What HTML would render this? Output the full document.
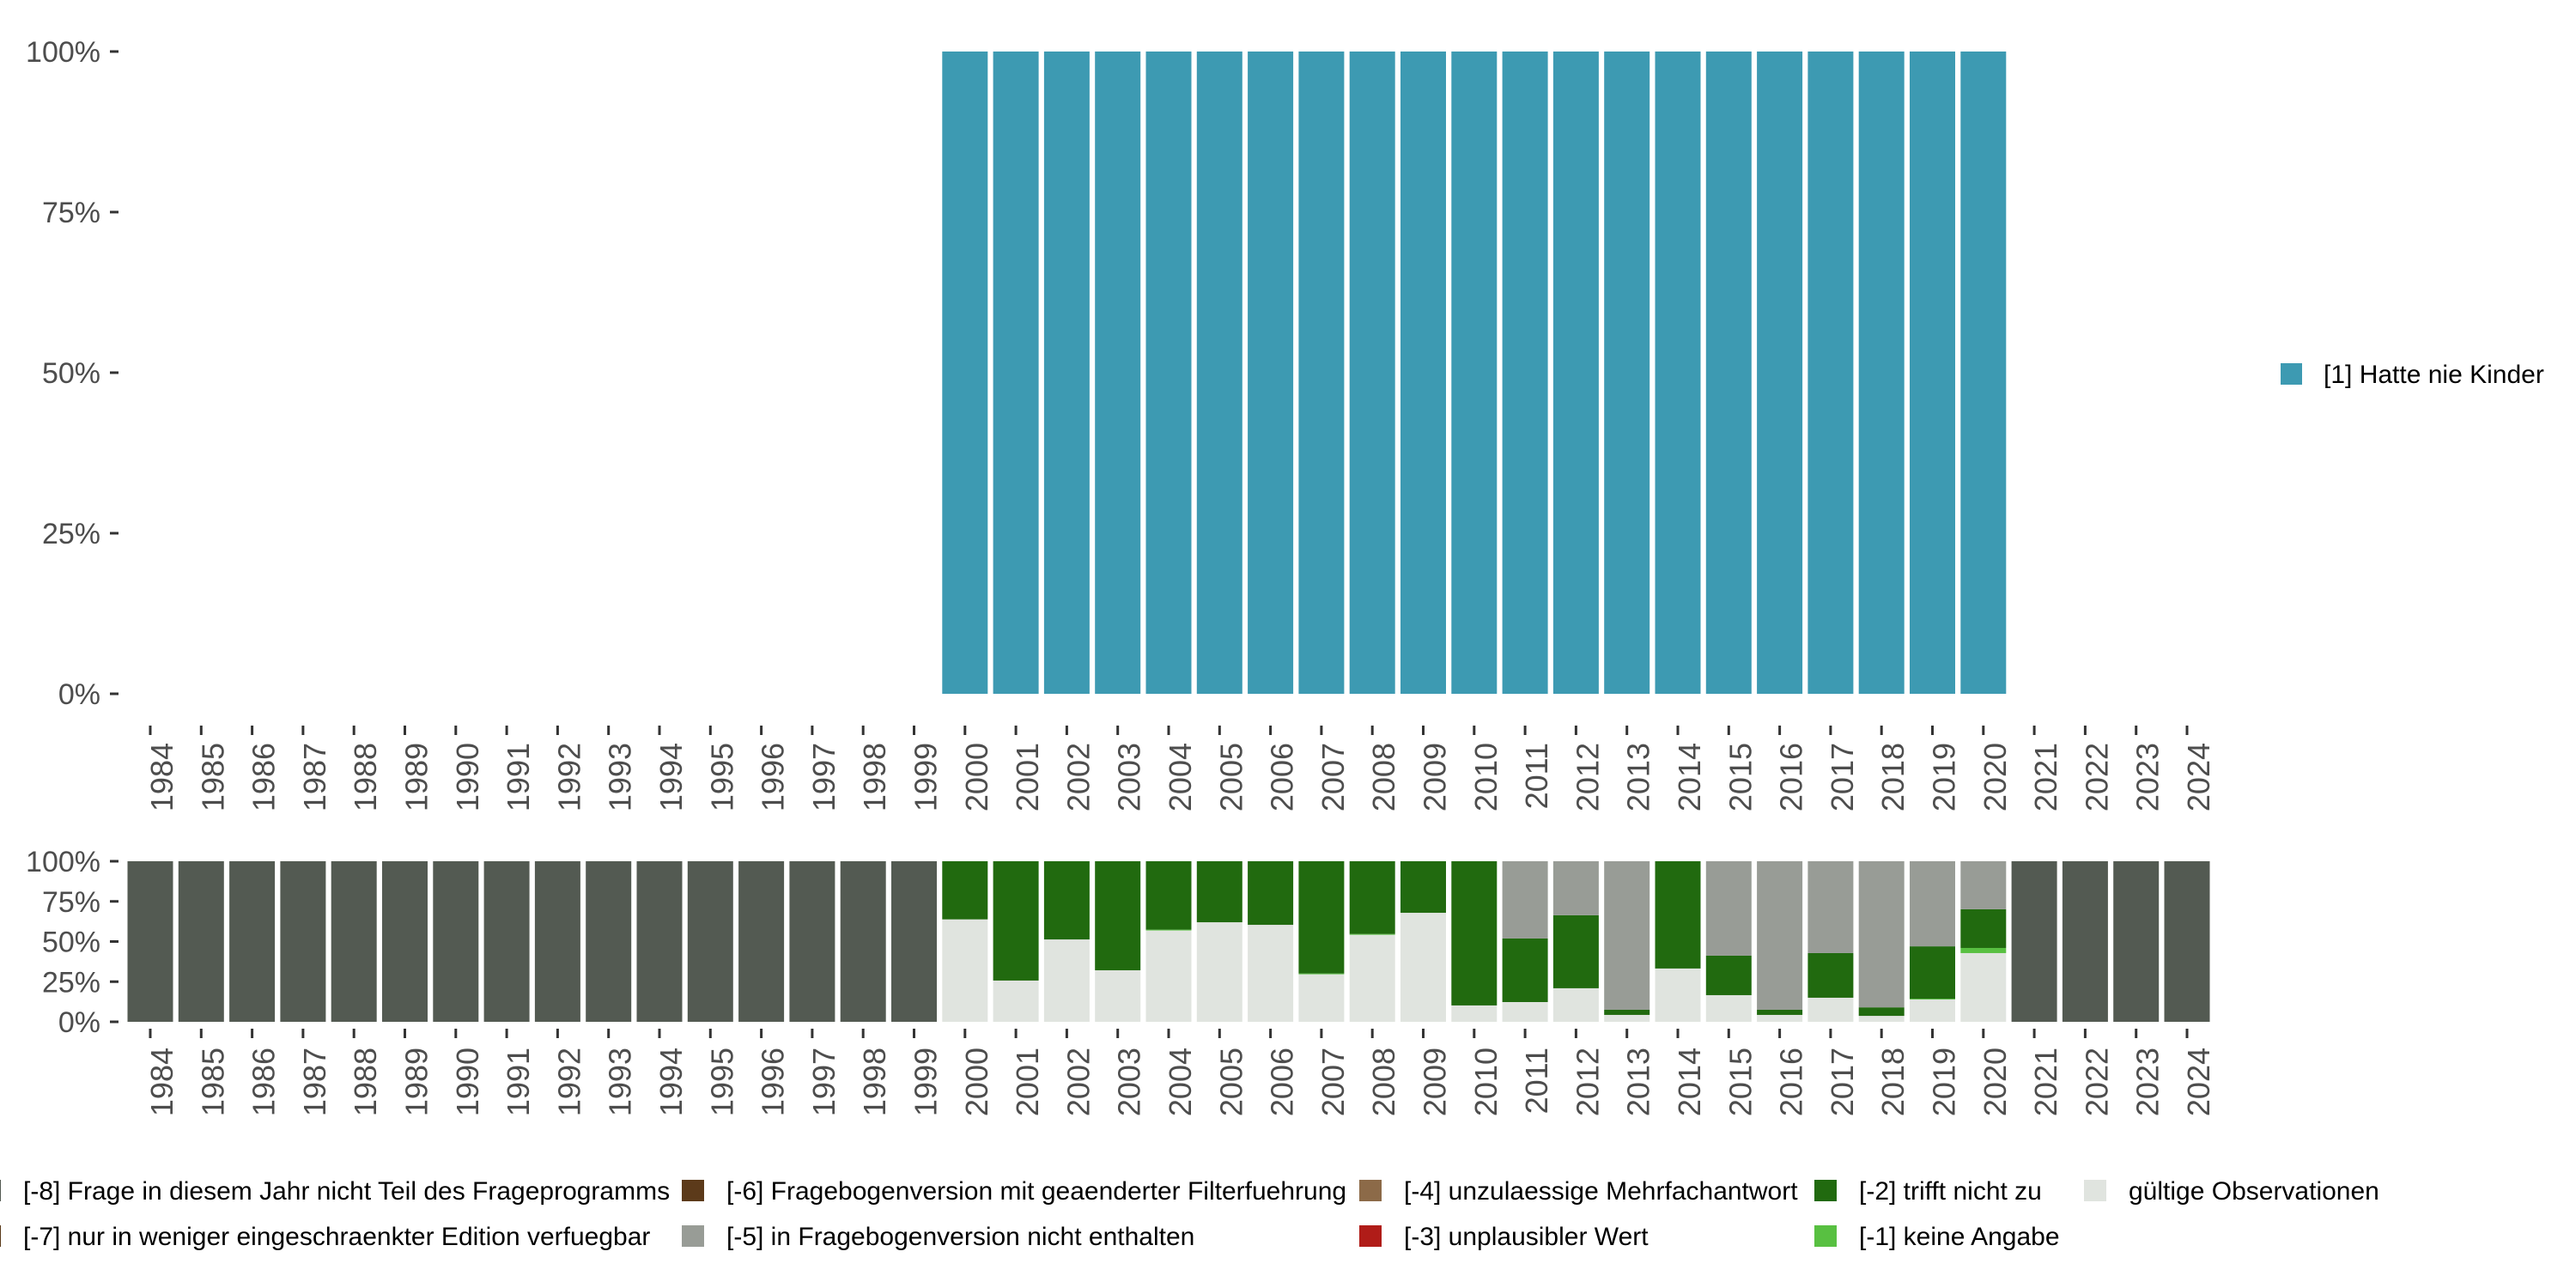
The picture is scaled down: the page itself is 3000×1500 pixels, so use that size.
<!DOCTYPE html>
<html><head><meta charset="utf-8"><style>
html,body{margin:0;padding:0;background:#fff;}
svg{display:block;font-family:"Liberation Sans",sans-serif;}
</style></head><body>
<svg id="chart" width="3000" height="1500" xmlns="http://www.w3.org/2000/svg">
<g id="topPanel"></g>
<g id="botPanel"></g>
<g id="legPanel"></g>
</svg>
<script>
const years = [];
for (let y = 1984; y <= 2024; y++) years.push(y);
const topYears = [2000,2001,2002,2003,2004,2005,2006,2007,2008,2009,2010,2011,2012,2013,2014,2015,2016,2017,2018,2019,2020];
const topValues = [1,1,1,1,1,1,1,1,1,1,1,1,1,1,1,1,1,1,1,1,1];
const yTickValues = [0,0.25,0.5,0.75,1];
const yTickLabels = ["0%","25%","50%","75%","100%"];
// bottom stacked shares, order years 2000..2020
const validShare = [0.638,0.257,0.513,0.321,0.569,0.620,0.604,0.296,0.542,0.679,0.102,0.123,0.209,0.043,0.332,0.166,0.043,0.150,0.037,0.139,0.428];
const noAnswer   = [0,0,0,0,0.005,0,0,0.005,0.005,0,0,0,0,0,0,0,0,0,0,0.005,0.032];
const notApply   = [0.362,0.743,0.487,0.679,0.426,0.380,0.396,0.699,0.453,0.321,0.898,0.396,0.455,0.032,0.668,0.246,0.032,0.278,0.053,0.326,0.241];
const notInVersion=[0,0,0,0,0,0,0,0,0,0,0,0.481,0.336,0.925,0,0.588,0.925,0.572,0.910,0.530,0.299];
const notAsked = years.map(y => (y < 2000 || y > 2020) ? 1 : 0);

const NS = "http://www.w3.org/2000/svg";
const x0 = 175, step = 59.3, bw = 53;
const xC = y => x0 + (y - 1984) * step;
const yTop = v => 808 - v * 748;
const yBot = v => 1190 - v * 187;
function mk(tag, attrs, parent) { const e = document.createElementNS(NS, tag); for (const k in attrs) e.setAttribute(k, attrs[k]); parent.appendChild(e); return e; }

function axes(g, yf, tickY0, labelY) {
  yTickValues.forEach((v, i) => {
    const t = mk("rect", {x:128, y:yf(v)-1.5, width:10, height:3, fill:"#333"}, g);
    
    
    const l = mk("text", {x:117, y:yf(v)+12, "text-anchor":"end", "font-size":34, fill:"#4d4d4d"}, g);
    l.textContent = yTickLabels[i];
    
    
  });
  years.forEach(y => {
    const t = mk("rect", {x:xC(y)-1.5, y:tickY0, width:3, height:11, fill:"#333"}, g);
    
    
    const tx = xC(y) + 26;
    const l = mk("text", {x:tx, y:labelY, "text-anchor":"end", "font-size":36, fill:"#4d4d4d", transform:`rotate(-90 ${tx} ${labelY})`}, g);
    l.textContent = String(y);
    
    
  });
}

const topG = document.getElementById("topPanel");
topYears.forEach((y, i) => {
  const r = mk("rect", {x:xC(y)-bw/2, y:yTop(topValues[i]), width:bw, height:yTop(0)-yTop(topValues[i]), fill:"#3d9ab2"}, topG);
  
  
});
axes(topG, yTop, 845, 865);

const botG = document.getElementById("botPanel");
years.forEach((y, j) => {
  const i = topYears.indexOf(y);
  const segs = i >= 0
    ? [[validShare[i],"#e0e4df","valid"],[noAnswer[i],"#58c041","no-answer"],[notApply[i],"#216a0f","not-apply"],[notInVersion[i],"#989c96","not-in-version"]]
    : [[notAsked[j],"#535a52","not-asked"]];
  let cum = 0;
  segs.forEach(s => {
    if (s[0] <= 0) return;
    const r = mk("rect", {x:xC(y)-bw/2, y:yBot(cum+s[0]), width:bw, height:yBot(cum)-yBot(cum+s[0]), fill:s[1]}, botG);
    
    
    cum += s[0];
  });
});
axes(botG, yBot, 1198, 1220);

const legG = document.getElementById("legPanel");
const tl = mk("rect", {x:2656, y:423, width:25, height:25, fill:"#3d9ab2"}, legG);


const tt = mk("text", {x:2706, y:446, "font-size":30, fill:"#000"}, legG);
tt.textContent = "[1] Hatte nie Kinder";



const legLabels = ["[-8] Frage in diesem Jahr nicht Teil des Frageprogramms","[-7] nur in weniger eingeschraenkter Edition verfuegbar","[-6] Fragebogenversion mit geaenderter Filterfuehrung","[-5] in Fragebogenversion nicht enthalten","[-4] unzulaessige Mehrfachantwort","[-3] unplausibler Wert","[-2] trifft nicht zu","[-1] keine Angabe","gültige Observationen"];
const legColors = ["#535a52","#5a3a1a","#5c3a1a","#989c96","#8c6a48","#b01c18","#216a0f","#58c041","#e0e4df"];
const colX = [0,794,1583,2113,2427];
legLabels.forEach((t, i) => {
  const c = Math.floor(i/2), r = i % 2;
  const sx = colX[c] - (c === 0 ? 25 : 0);
  const sy = r === 0 ? 1374 : 1427;
  const s = mk("rect", {x:sx, y:sy, width:26, height:25, fill:legColors[i]}, legG);
  
  
  const tx = mk("text", {x:sx+52, y:sy+23, "font-size":30, fill:"#000"}, legG);
  tx.textContent = t;
  
  
});
</script>
</body></html>
